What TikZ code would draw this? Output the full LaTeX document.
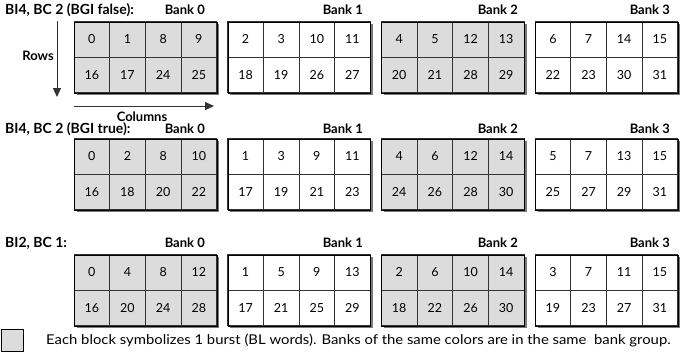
\documentclass[tikz,border=0pt]{standalone}
\usepackage{fontspec}
\setmainfont{Lato}
\newfontfamily\legendfont[FakeStretch=1.1]{Lato}
\usetikzlibrary{arrows.meta}
\definecolor{cellgray}{HTML}{DCDCDC}
\definecolor{shadowc}{HTML}{7A7A7A}
\definecolor{linec}{HTML}{333333}
\tikzset{
  cell/.style={draw=linec, line width=0.7pt, minimum width=35.65pt, minimum height=35.5pt, inner sep=0pt, font=\fontsize{12.5}{14}\selectfont},
  bankbox/.style={draw=black, line width=0.9pt, minimum width=142.6pt, minimum height=71pt, inner sep=0pt, anchor=north west},
  title/.style={font=\bfseries\fontsize{14}{16}\selectfont, inner sep=0pt},
  banklabel/.style={font=\bfseries\fontsize{13}{15}\selectfont, inner sep=0pt, anchor=east},
  axis/.style={draw=linec, line width=1pt, -{Triangle[width=8pt,length=9pt]}},
}
\newcommand{\bankgrid}[6]{%
  \fill[shadowc] (#2+2.6,#3+2.6) rectangle ++(142.6,71);
  \foreach \v [count=\i from 0] in {#5} {
    \node[cell,fill=#4] (#1a\i) at (#2+\i*35.65+17.825, #3+17.75) {\v};
  }
  \foreach \v [count=\i from 0] in {#6} {
    \node[cell,fill=#4] (#1b\i) at (#2+\i*35.65+17.825, #3+53.25) {\v};
  }
  \node[bankbox] (#1) at (#2,#3) {};
}
\begin{document}
\begin{tikzpicture}[x=1pt,y=-1pt]
\useasboundingbox (0,0) rectangle (694,354);
% grid 1
\node[title,anchor=west] (t1) at (5,10) {BI4, BC 2 (BGI false):};
\bankgrid{ga0}{74}{21.5}{cellgray}{0,1,8,9}{16,17,24,25}
\bankgrid{ga1}{227.7}{21.5}{white}{2,3,10,11}{18,19,26,27}
\bankgrid{ga2}{381.4}{21.5}{cellgray}{4,5,12,13}{20,21,28,29}
\bankgrid{ga3}{535.1}{21.5}{white}{6,7,14,15}{22,23,30,31}
\node[banklabel] (la0) at (205,10) {Bank 0};
\node[banklabel] (la1) at (363,10) {Bank 1};
\node[banklabel] (la2) at (518,10) {Bank 2};
\node[banklabel] (la3) at (670,10) {Bank 3};
\coordinate (rtop) at (57,21);
\coordinate (rtip) at (57,97);
\draw[axis] (rtop) -- (rtip);
\node[banklabel] (rows) at (54,56) {Rows};
\coordinate (cleft) at (74,106);
\coordinate (cright) at (214,106);
\draw[axis] (cleft) -- (cright);
\node[banklabel,anchor=center] (cols) at (142,117) {Columns};
% grid 2
\node[title,anchor=west] (t2) at (5,129) {BI4, BC 2 (BGI true):};
\bankgrid{gb0}{74}{138.5}{cellgray}{0,2,8,10}{16,18,20,22}
\bankgrid{gb1}{227.7}{138.5}{white}{1,3,9,11}{17,19,21,23}
\bankgrid{gb2}{381.4}{138.5}{cellgray}{4,6,12,14}{24,26,28,30}
\bankgrid{gb3}{535.1}{138.5}{white}{5,7,13,15}{25,27,29,31}
\node[banklabel] (lb0) at (205,129) {Bank 0};
\node[banklabel] (lb1) at (363,129) {Bank 1};
\node[banklabel] (lb2) at (518,129) {Bank 2};
\node[banklabel] (lb3) at (670,129) {Bank 3};
% grid 3
\node[title,anchor=west] (t3) at (5,243) {BI2, BC 1:};
\bankgrid{gc0}{74}{254.5}{cellgray}{0,4,8,12}{16,20,24,28}
\bankgrid{gc1}{227.7}{254.5}{white}{1,5,9,13}{17,21,25,29}
\bankgrid{gc2}{381.4}{254.5}{cellgray}{2,6,10,14}{18,22,26,30}
\bankgrid{gc3}{535.1}{254.5}{white}{3,7,11,15}{19,23,27,31}
\node[banklabel] (lc0) at (205,243) {Bank 0};
\node[banklabel] (lc1) at (363,243) {Bank 1};
\node[banklabel] (lc2) at (518,243) {Bank 2};
\node[banklabel] (lc3) at (670,243) {Bank 3};
% legend
\node[draw=black, line width=0.8pt, fill=cellgray, minimum width=22pt, minimum height=22pt, inner sep=0pt, anchor=north west] (leg) at (1,329) {};
\node[anchor=west, inner sep=0pt, font=\legendfont\fontsize{13.5}{15}\selectfont] (legtxt) at (46,340) {Each block symbolizes 1 burst (BL words). Banks of the same colors are in the same\ \ bank group.};
\end{tikzpicture}
\end{document}
